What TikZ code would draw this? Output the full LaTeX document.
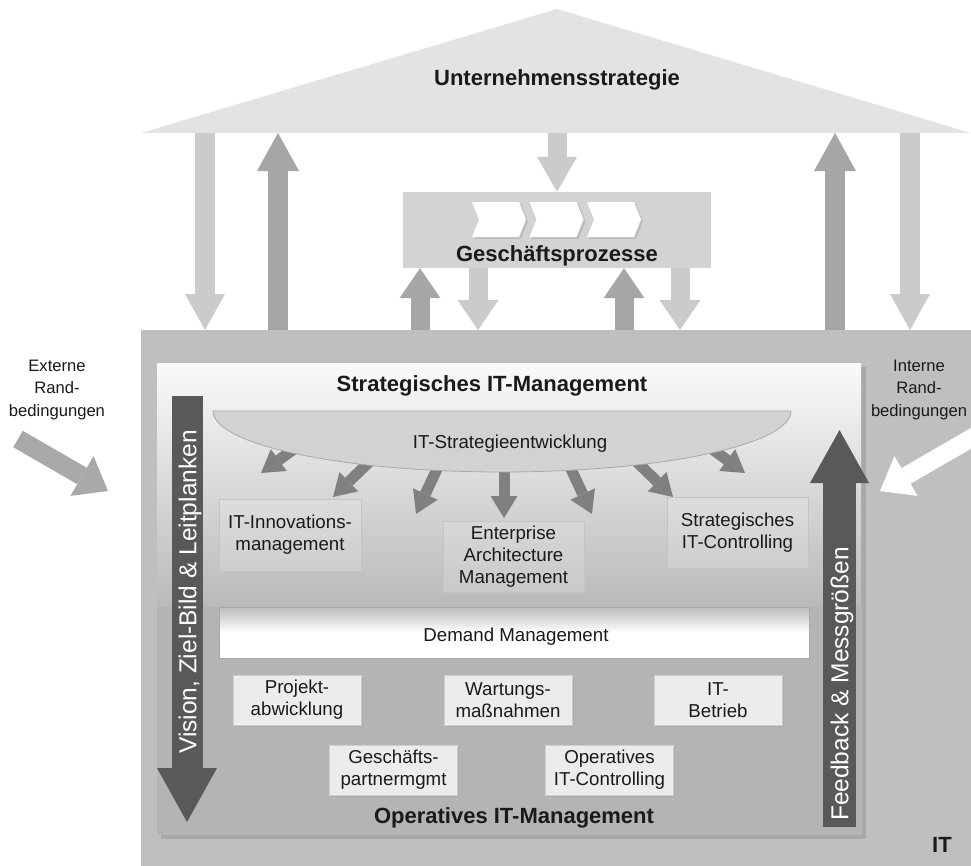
\documentclass[tikz,border=0pt]{standalone}
\usepackage{fontspec}
\setmainfont{Liberation Sans}
\usetikzlibrary{arrows.meta,shadows}

\definecolor{roofgray}{HTML}{E3E3E3}
\definecolor{arrlight}{HTML}{CBCBCB}
\definecolor{arrdark}{HTML}{A6A6A6}
\definecolor{gpgray}{HTML}{D3D3D3}
\definecolor{chevsh}{HTML}{BDBDBD}
\definecolor{itgray}{HTML}{BFBFBF}
\definecolor{panelsh}{HTML}{A9A9A9}
\definecolor{opgray}{HTML}{B4B4B4}
\definecolor{stratop}{HTML}{FAFAFA}
\definecolor{stratbot}{HTML}{B9B9B9}
\definecolor{bargray}{HTML}{595959}
\definecolor{fangray}{HTML}{808080}
\definecolor{ellfill}{HTML}{D2D2D2}
\definecolor{ellline}{HTML}{A9A9A9}
\definecolor{extgray}{HTML}{A9A9A9}
\definecolor{boxline}{HTML}{C4C4C4}
\definecolor{opboxfill}{HTML}{ECECEC}
\definecolor{opboxline}{HTML}{CFCFCF}
\definecolor{dmtop}{HTML}{BBBBBB}
\definecolor{dmline}{HTML}{A8A8A8}
\definecolor{txt}{HTML}{1A1A1A}

\newcommand\dgHead{\fontsize{22}{26}\selectfont\bfseries}
\newcommand\dgBox{\fontsize{18.7}{22.3}\selectfont}
\newcommand\dgSide{\fontsize{16.6}{22.5}\selectfont}
\newcommand\dgBar{\fontsize{24.5}{28}\selectfont}

\begin{document}
\begin{tikzpicture}[x=1pt,y=-1pt,
  every node/.style={text=txt},
  blk/.style n args={4}{draw=#4, line width=#1,
    -{Triangle[width=#2,length=#3,line width=0pt]}},
  heading/.style={font=\dgHead, anchor=base},
  stratbox/.style={draw=boxline, fill=white, fill opacity=0.18, text opacity=1,
    align=center, font=\dgBox, inner sep=0pt},
  opbox/.style={draw=opboxline, fill=opboxfill, align=center, font=\dgBox,
    inner sep=0pt, minimum width=128pt, minimum height=50pt,
    drop shadow={shadow xshift=1.5pt, shadow yshift=-1.5pt, opacity=0.18}},
  bartext/.style={font=\dgBar, text=white, rotate=90},
  sidetext/.style={font=\dgSide, align=center},
]
\useasboundingbox (0,0) rectangle (971,865);
\clip (0,0) rectangle (971,865);
\fill[white] (0,0) rectangle (971,865);

% ---------------- roof: corporate strategy ----------------
\coordinate (roofL) at (141,133);
\coordinate (roofR) at (971,133);
\fill[roofgray] (roofL) -- (557,9) -- (roofR) -- cycle;
\node[heading] (roof) at (557,85) {Unternehmensstrategie};

% ---------------- IT block ----------------
\node[fill=itgray, anchor=north west, minimum width=834pt, minimum height=540pt,
  inner sep=0pt] (itbox) at (141,330) {};
\node[heading] (itlabel) at (942,852) {IT};

% ---------------- business processes ----------------
\node[fill=gpgray, minimum width=308pt, minimum height=76pt, inner sep=0pt]
  (gp) at (557,230) {};
\foreach \x in {472,529.5,587}{
  \begin{scope}[shift={(\x,202)}]
    \fill[chevsh] (2,2) -- (49,2) -- (56,19.5) -- (49,37) -- (2,37) -- (9,19.5) -- cycle;
    \fill[white] (0,0) -- (47,0) -- (54,17.5) -- (47,35) -- (0,35) -- (7,17.5) -- cycle;
  \end{scope}
}
\node[heading] (gplabel) at (557,261) {Geschäftsprozesse};

% ---------------- arrows between roof, processes and IT ----------------
\coordinate (a1) at (205,133);
\coordinate (a2) at (278,330);
\coordinate (a3) at (835,330);
\coordinate (a4) at (910,133);
\coordinate (a5) at (557,133);
\draw[blk={20pt}{40pt}{36pt}{arrlight}] (a1) -- (a1 |- itbox.north);
\draw[blk={20pt}{42pt}{38pt}{arrdark}] (a2) -- (a2 |- roofL);
\draw[blk={20pt}{42pt}{38pt}{arrdark}] (a3) -- (a3 |- roofL);
\draw[blk={20pt}{40pt}{36pt}{arrlight}] (a4) -- (a4 |- itbox.north);
\draw[blk={19pt}{40pt}{35pt}{arrlight}] (a5) -- (gp.north);

\coordinate (b1) at (420,330);
\coordinate (b2) at (478,268);
\coordinate (b3) at (624,330);
\coordinate (b4) at (680,268);
\draw[blk={19pt}{41pt}{30pt}{arrdark}] (b1) -- (b1 |- gp.south);
\draw[blk={19pt}{41pt}{30pt}{arrlight}] (b2) -- (b2 |- itbox.north);
\draw[blk={19pt}{41pt}{30pt}{arrdark}] (b3) -- (b3 |- gp.south);
\draw[blk={19pt}{41pt}{30pt}{arrlight}] (b4) -- (b4 |- itbox.north);

% ---------------- management panel ----------------
\fill[panelsh] (161,367) rectangle (866,839);
\node[anchor=north west, minimum width=704pt, minimum height=244pt, inner sep=0pt,
  top color=stratop, bottom color=stratbot] (strpanel) at (157,363) {};
\node[anchor=north west, fill=opgray, minimum width=705pt, minimum height=228pt,
  inner sep=0pt] (oppanel) at (157,607) {};
\node[heading] (strlabel) at (492,391) {Strategisches IT-Management};

% fan of arrows out of the strategy development
\foreach \n/\tx/\ty/\hx/\hy in {1/309.5/437.7/261/473, 2/376.1/455.3/333/497,
    3/441.4/459.6/416/514, 4/504/458/504/518, 5/566.6/459.6/592/514,
    6/629.9/455.3/673/497, 7/696.5/437.7/745/473}{
  \coordinate (fant\n) at (\tx,\ty);
  \coordinate (fanh\n) at (\hx,\hy);
  \draw[blk={11pt}{27pt}{22pt}{fangray}] (fant\n) -- (fanh\n);
}
\path[fill=ellfill, draw=ellline, line width=0.8pt]
  plot[domain=0:180, samples=90] ({502+289*cos(\x)},{411+61*sin(\x)}) -- cycle;
\node[font=\dgBox, anchor=base] (strdev) at (510,448) {IT-Strategieentwicklung};

\node[stratbox, minimum width=142pt, minimum height=72pt] (inno) at (290,535)
  {IT-Innovations-\\management};
\node[stratbox, minimum width=141pt, minimum height=71pt] (eam) at (513.5,556.5)
  {Enterprise\\Architecture\\Management};
\node[stratbox, minimum width=141pt, minimum height=71pt] (sctrl) at (737.5,532.5)
  {Strategisches\\IT-Controlling};

% demand management bar
\node[draw=dmline, line width=0.6pt, top color=dmtop, bottom color=white, middle color=white,
  minimum width=590pt, minimum height=51pt, inner sep=0pt] (demand) at (514,632.5) {};
\node[font=\dgBox, anchor=base] (demandlabel) at (516,641) {Demand Management};

% operative tasks
\node[opbox] (proj) at (297,700) {Projekt-\\abwicklung};
\node[opbox] (wart) at (508,700) {Wartungs-\\maßnahmen};
\node[opbox] (betr) at (718,700) {IT-\\Betrieb};
\node[opbox] (gpm) at (393.5,770) {Geschäfts-\\partnermgmt};
\node[opbox] (opctrl) at (609.5,770) {Operatives\\IT-Controlling};
\node[heading] (oplabel) at (514,823) {Operatives IT-Management};

% vertical bars: vision downwards, feedback upwards
\coordinate (vtop) at (187,396);
\coordinate (vtip) at (187,822);
\draw[blk={31pt}{60pt}{54pt}{bargray}] (vtop) -- (vtip);
\node[bartext] (vtext) at (190,592) {Vision, Ziel-Bild \& Leitplanken};

\coordinate (fbot) at (839.5,827);
\coordinate (ftip) at (839.5,430);
\draw[blk={33pt}{59pt}{53pt}{bargray}] (fbot) -- (ftip);
\node[bartext] (ftext) at (842,684) {Feedback \& Messgrößen};

% external and internal constraints
\coordinate (exttail) at (18,439);
\coordinate (exttip) at (108,491);
\draw[blk={19pt}{46pt}{30pt}{extgray}] (exttail) -- (exttip);
\node[sidetext] (extlabel) at (57,390) {Externe\\Rand-\\bedingungen};

\coordinate (inttail) at (988,428.5);
\coordinate (inttip) at (880,491);
\draw[blk={18pt}{46pt}{30pt}{white}] (inttail) -- (inttip);
\node[sidetext] (intlabel) at (919,390) {Interne\\Rand-\\bedingungen};
\end{tikzpicture}
\end{document}
